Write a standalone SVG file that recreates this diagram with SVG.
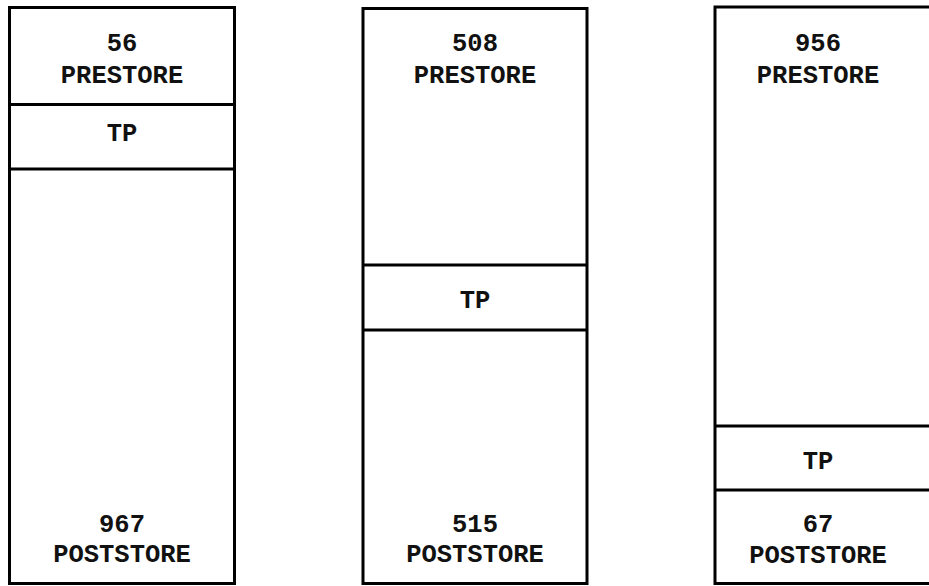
<svg xmlns="http://www.w3.org/2000/svg" width="929" height="586" viewBox="0 0 929 586">
<style>
.box{fill:#fff;stroke:#000;stroke-width:3}
.div{stroke:#000;stroke-width:3}
text{font-family:"Liberation Mono","Courier New",monospace;font-weight:bold;font-size:25.5px;fill:#111;text-anchor:middle}
</style>
<rect width="929" height="586" fill="#fff"/>
<g id="col1">
<rect class="box" x="9.5" y="7.5" width="225" height="576"/>
<line class="div" x1="9.5" y1="104.5" x2="234.5" y2="104.5"/>
<line class="div" x1="9.5" y1="169" x2="234.5" y2="169"/>
<text x="122" y="51">56</text>
<text x="122" y="83">PRESTORE</text>
<text x="122" y="141">TP</text>
<text x="122" y="532">967</text>
<text x="122" y="562">POSTSTORE</text>
</g>
<g id="col2">
<rect class="box" x="363" y="8.5" width="224" height="575"/>
<line class="div" x1="363" y1="265" x2="587" y2="265"/>
<line class="div" x1="363" y1="330" x2="587" y2="330"/>
<text x="475" y="51">508</text>
<text x="475" y="83">PRESTORE</text>
<text x="475" y="308">TP</text>
<text x="475" y="532">515</text>
<text x="475" y="562">POSTSTORE</text>
</g>
<g id="col3">
<rect class="box" x="715" y="7" width="230" height="576.5"/>
<line class="div" x1="715" y1="426" x2="929" y2="426"/>
<line class="div" x1="715" y1="490" x2="929" y2="490"/>
<text x="818" y="51">956</text>
<text x="818" y="83">PRESTORE</text>
<text x="818" y="469">TP</text>
<text x="818" y="532">67</text>
<text x="818" y="563">POSTSTORE</text>
</g>
<g id="connectors"/>
</svg>
